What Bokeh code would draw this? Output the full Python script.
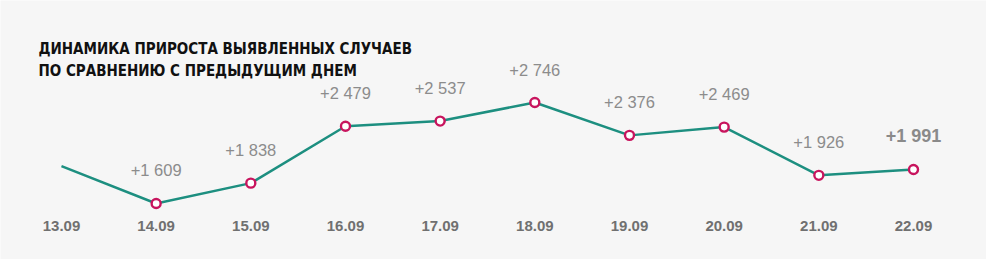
from bokeh.plotting import figure
from bokeh.models import ColumnDataSource, Label, Range1d
from bokeh.core.properties import value
from bokeh.embed import file_html
from bokeh.resources import INLINE

dates = ["13.09", "14.09", "15.09", "16.09", "17.09", "18.09", "19.09", "20.09", "21.09", "22.09"]
growth = [2030, 1609, 1838, 2479, 2537, 2746, 2376, 2469, 1926, 1991]
point_labels = ["", "+1 609", "+1 838", "+2 479", "+2 537", "+2 746", "+2 376", "+2 469", "+1 926", "+1 991"]
title_lines = ["ДИНАМИКА ПРИРОСТА ВЫЯВЛЕННЫХ СЛУЧАЕВ", "ПО СРАВНЕНИЮ С ПРЕДЫДУЩИМ ДНЕМ"]

BG = "#f6f6f6"
xs = list(range(len(dates)))

p = figure(width=986, height=259, output_backend="svg", toolbar_location=None,
           x_range=Range1d(-0.644, 9.771), y_range=Range1d(978, 3895),
           min_border=0, min_border_left=0, min_border_right=0,
           min_border_top=0, min_border_bottom=0)
p.axis.visible = False
p.grid.visible = False
p.outline_line_color = None
p.background_fill_color = BG
p.border_fill_color = BG

p.line(xs, growth, line_color="#1d8f80", line_width=2.5)

pts = ColumnDataSource(dict(x=xs[1:], y=growth[1:], lab=point_labels[1:]))
p.scatter("x", "y", source=pts, size=9, fill_color="white",
          line_color="#c8155e", line_width=2.4)

mid = ColumnDataSource(dict(x=xs[1:-1], y=growth[1:-1], lab=point_labels[1:-1]))
p.text("x", "y", text="lab", source=mid, y_offset=-33,
       text_align="center", text_baseline="middle",
       text_font=value("Liberation Sans"), text_font_size="16.5px",
       text_color="#8c8c8c")

last = ColumnDataSource(dict(x=xs[-1:], y=growth[-1:], lab=point_labels[-1:]))
p.text("x", "y", text="lab", source=last, y_offset=-34,
       text_align="center", text_baseline="middle",
       text_font=value("Liberation Sans"), text_font_size="18px",
       text_font_style="bold", text_color="#8a8a8a")

ticks = ColumnDataSource(dict(x=xs, y=[978] * len(xs), lab=dates))
p.text("x", "y", text="lab", source=ticks, y_offset=-34,
       text_align="center", text_baseline="middle",
       text_font=value("Liberation Sans"), text_font_size="15px",
       text_font_style="bold", text_color="#707070")

for i, line in enumerate(title_lines):
    p.add_layout(Label(x=38, y=211 - 22 * i, x_units="screen", y_units="screen",
                       text=line, text_baseline="middle",
                       text_font="DejaVu Sans Condensed", text_font_size="15px",
                       text_font_style="bold", text_color="#111111"))

open("out.html", "w").write(file_html(p, INLINE))
